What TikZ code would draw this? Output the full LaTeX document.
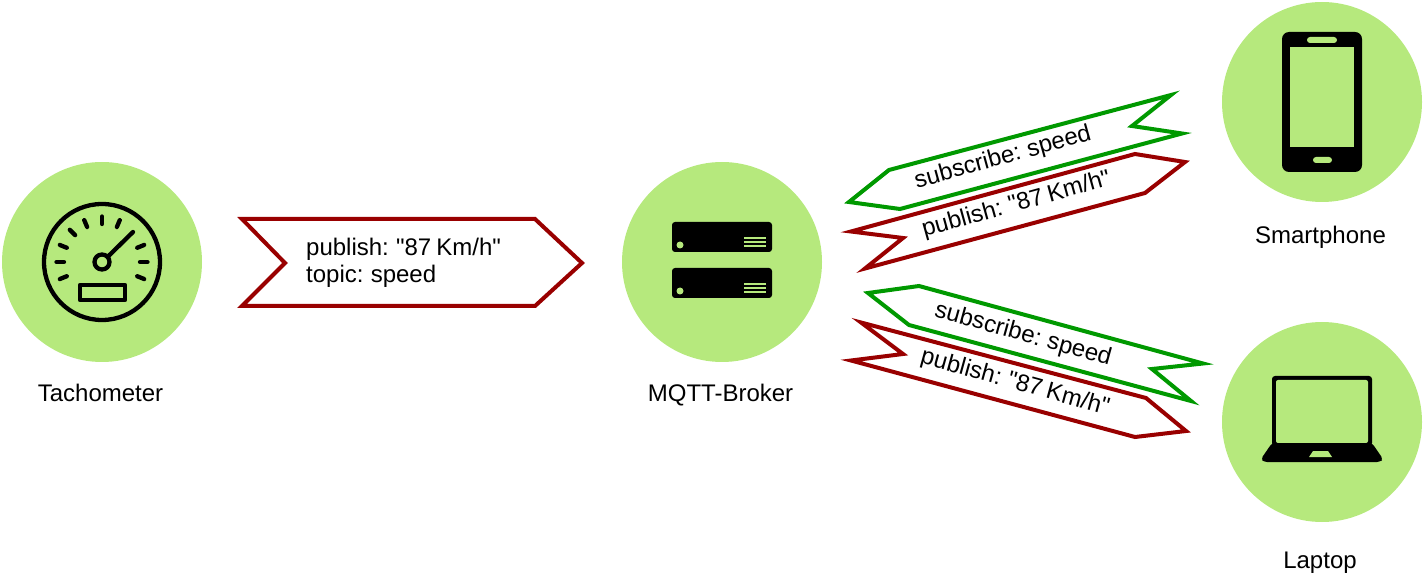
\documentclass[tikz,border=0pt]{standalone}
\usepackage{fontspec}
\usetikzlibrary{calc}
\setmainfont{Liberation Sans}[WordSpace=0.75,Ligatures=TeXOff]
\definecolor{lgreen}{HTML}{B6E97D}
\definecolor{msgred}{HTML}{990000}
\definecolor{msggreen}{HTML}{009900}
\tikzset{
  hub/.style={circle,fill=lgreen,draw=none,minimum size=200pt,inner sep=0pt},
  lbl/.style={font=\fontsize{24}{27}\selectfont,text=black,inner sep=0pt,anchor=base},
  msg/.style={font=\fontsize{24}{27}\selectfont,text=black,inner sep=0pt,align=left},
  redflag/.style={draw=msgred,line width=4pt,fill=white,line join=miter,miter limit=10},
  greenflag/.style={draw=msggreen,line width=4pt,fill=white,line join=miter,miter limit=10},
  iconline/.style={draw=black,line width=4.3pt,line cap=round},
  iconring/.style={draw=black,line width=4.3pt},
  iconfill/.style={fill=black,draw=none},
  iconcut/.style={fill=lgreen,draw=none}
}
\begin{document}
\begin{tikzpicture}[x=1pt,y=-1pt]
\useasboundingbox (0,0) rectangle (1425,585);
% hubs
\node[hub] (tacho) at (102,262) {};
\node[hub] (broker) at (722,262) {};
\node[hub] (phone) at (1322,102) {};
\node[hub] (laptop) at (1322,422) {};
% labels
\node[lbl] (ltacho) at (100.5,402) {Tachometer};
\node[lbl] (lbroker) at (720.5,402) {MQTT-Broker};
\node[lbl] (lphone) at (1320.5,244) {Smartphone};
\node[lbl] (llaptop) at (1320,568.5) {Laptop};
% tachometer icon
\draw[iconring] (102,262) circle (58);
\foreach \a in {0,22,67,90,113,135,158,180,202,338}
  \draw[iconline] ($(102,262)+(\a:38pt)$) -- ($(102,262)+(\a:45.5pt)$);
\draw[iconring] (102,262) circle (7.5);
\draw[iconline] (108,256.5) -- (133,232);
\draw[iconring,line join=round] (80,285) rectangle (125,300);
% server icon
\foreach \dy in {0,46}{
  \fill[iconfill,rounded corners=3pt] (672,222+\dy) rectangle (772,252+\dy);
  \fill[iconcut] (680,245+\dy) circle (3.5);
  \foreach \ly in {238,242,246}
    \fill[iconcut] (743.5,\ly-0.7+\dy) rectangle (766,\ly+0.7+\dy);
}
% phone icon
\fill[iconfill,rounded corners=7pt] (1282,32) rectangle (1362,172);
\fill[iconcut] (1290,47) rectangle (1354,147);
\fill[iconcut,rounded corners=3pt] (1307,37) rectangle (1337,43);
\fill[iconcut,rounded corners=3pt] (1313,157) rectangle (1332,163);
% laptop icon
\fill[iconfill,rounded corners=3pt] (1272,376) rectangle (1372,446);
\fill[iconcut,rounded corners=2pt] (1276,380) rectangle (1368,443);
\fill[iconfill,rounded corners=3pt] (1272,443) -- (1372,443) -- (1383,459) -- (1380,462) -- (1264,462) -- (1261,459) -- cycle;
\fill[iconcut] (1313,451) -- (1328,451) -- (1332,457) -- (1309,457) -- cycle;
% messages
\draw[redflag] (242,219) -- (535,219) -- (582,263) -- (535,306) -- (242,306) -- (285,263) -- cycle;
\node[msg,anchor=west] (m1) at (306,262.5) {publish: "87 Km/h"\\topic: speed};
\draw[greenflag] (1171,95) -- (1132,126) -- (1182,133.5) -- (900,209) -- (849,202) -- (889,170) -- cycle;
\draw[redflag] (1135,154) -- (1185,162) -- (1145,193) -- (865,268.5) -- (903,238) -- (851,231.5) -- cycle;
\node[msg,rotate=15.5] (m2) at (1003,158) {subscribe: speed};
\node[msg,rotate=15.5] (m3) at (1016.5,205) {publish: "87 Km/h"};
\draw[greenflag] (868,293) -- (919,286) -- (1203,363.5) -- (1152,369) -- (1191,401) -- (909,325) -- cycle;
\draw[redflag] (861,322.5) -- (903,354) -- (851,360.5) -- (1135,437) -- (1186,431) -- (1146,398) -- cycle;
\node[msg,rotate=-15.5] (m4) at (1023,335) {subscribe: speed};
\node[msg,rotate=-15.5] (m5) at (1015,383) {publish: "87 Km/h"};
\end{tikzpicture}
\end{document}
